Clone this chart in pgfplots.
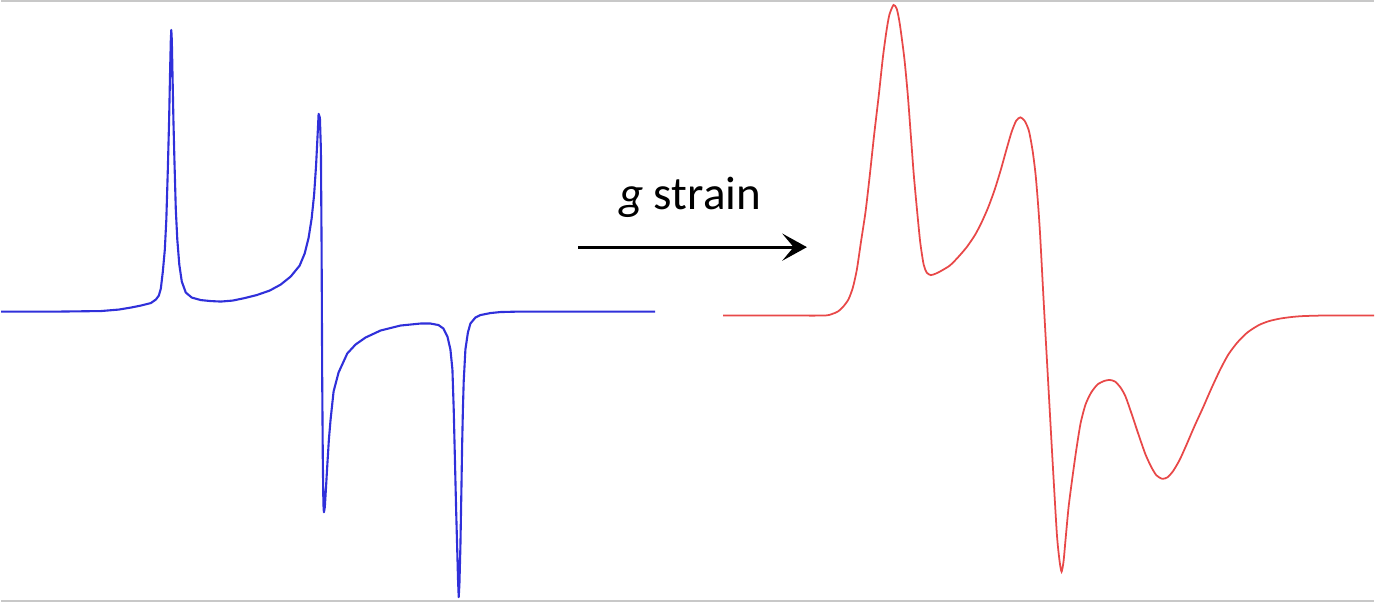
\documentclass[border=0pt]{standalone}
\usepackage{pgfplots}
\pgfplotsset{compat=1.18}
\usepackage{fontspec}
\setmainfont{Carlito}
\usetikzlibrary{arrows.meta}
\definecolor{specblue}{RGB}{48,48,218}
\definecolor{specred}{RGB}{232,72,72}
\definecolor{edgegray}{RGB}{200,200,200}

\begin{document}
\begin{tikzpicture}
\begin{axis}[
    scale only axis,
    width=13.75cm, height=6.04cm,
    xmin=0, xmax=1375, ymin=0, ymax=604,
    y dir=reverse,
    hide axis,
    clip=false,
]
\path (axis cs:0,0) rectangle (axis cs:1375,604);

% thin grey edges of the original frame
\addplot[edgegray, line width=0.45pt] coordinates {(0,1) (1375,1)};
\addplot[edgegray, line width=0.45pt] coordinates {(0,602) (1375,602)};

% narrow spectrum (blue)
\addplot[specblue, line width=0.6pt, line join=round] coordinates {
(0,312) (60,312) (100,311.5) (118,310) (130,308) (140,306) (150,303.5) (155,300)
(158,296) (160,289) (162,272) (164,250) (165.5,220) (167,170) (168.3,120)
(169.3,70) (170,40) (170.5,30) (171,40) (171.7,75) (172.6,120) (173.6,160)
(175,210) (176.5,240) (178.5,265) (181,282) (185,293) (191,298) (200,300.5)
(210,301.5) (220,302) (232,301) (244,298.5) (256,295.5) (269,291) (280,285)
(290,277) (299,266) (304,254) (308,238) (311,219) (313.5,195) (315.5,165)
(317,135) (318,114) (319.3,118) (320.3,150) (321,250) (321.6,380) (322.2,460)
(322.8,505) (323.3,513) (324.2,508) (325.3,490) (326.7,466) (328.3,440) (330,420)
(333,392) (338,373) (346.7,354) (355,345) (365,338) (380,331) (400,326) (420,324)
(430,324) (438,325.5) (443,329) (447,337) (450,350) (452,370) (453.3,410)
(454.5,460) (455.7,510) (456.8,550) (457.6,580) (458.3,598) (459,585) (460,547)
(461,490) (461.7,447) (462.5,410) (463.3,382) (465,350) (467.5,333) (470,324)
(475,318) (480,315.5) (490,313.5) (500,312.5) (520,312) (560,312) (655,312)
};

% broadened spectrum (red)
\addplot[specred, line width=0.5pt, smooth, tension=0.4] coordinates {
(723,316) (780,316) (824,316) (832,314.5) (838,312) (843,307.5) (848.5,300)
(853,288) (857,270) (861,243) (865.7,212) (870,175) (874.3,135) (879,95) (883,58)
(886.5,32) (889.5,15) (893.7,5) (897,9) (900,24) (904.5,58) (908,95) (911,135)
(914,175) (917.4,212) (920.5,243) (923.9,265) (927,273) (931,275.5) (936,274)
(941,271.5) (950,266) (958,258) (967,247.5) (975.5,235) (982,222.5) (988.4,208)
(995,190) (1001.3,169.5) (1007,149) (1012,132) (1016.5,121) (1020.7,117.5)
(1025,121) (1029.3,131) (1033,151) (1036,175) (1038.5,205) (1040.5,235)
(1044.4,308) (1048.7,385) (1053,462) (1057.3,535) (1060,562) (1062,572.5)
(1064,562) (1066,540) (1069,508) (1072.4,481.5) (1076.5,452) (1081,424) (1086,405)
(1091.7,393) (1098,385) (1104.7,381.5) (1110,380.5) (1115.4,382) (1121,388)
(1126,397) (1132,414) (1139,435) (1146,455) (1152,468) (1157,476) (1162.8,479.5)
(1168,478) (1173.5,472) (1180,461) (1186.4,447) (1195,427) (1203.7,408) (1212,389)
(1220.9,370) (1229,355) (1238,343) (1248,333) (1259.6,325.5) (1270,321.5)
(1281,319) (1292,317.5) (1302.7,316.6) (1324,316) (1375,316)
};

% arrow and label
\draw[black, line width=0.85pt, -{Stealth[length=7pt, width=7.7pt, inset=3.2pt]}]
  (axis cs:578,247.5) -- (axis cs:807,247.5);
\node[anchor=base, inner sep=0pt, font=\fontsize{13.4}{16}\selectfont]
  at (axis cs:690,210) {\textit{g} strain};
\end{axis}
\end{tikzpicture}
\end{document}
